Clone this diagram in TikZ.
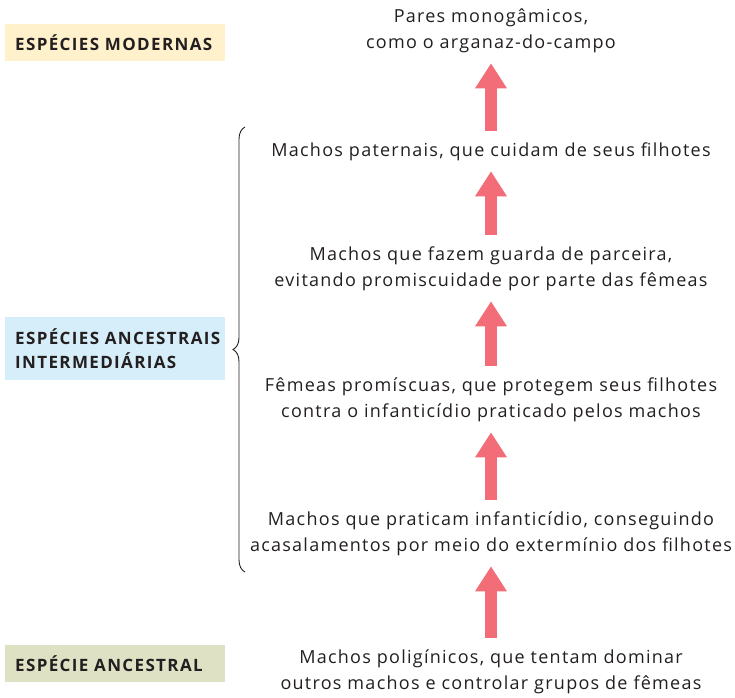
\documentclass[tikz,border=0pt]{standalone}
\usepackage{fontspec}
\setmainfont{Open Sans}
\newfontfamily\stagefont[LetterSpace=7]{Open Sans}
\newfontfamily\erafont[LetterSpace=8]{Open Sans}
\usetikzlibrary{arrows.meta,decorations.pathreplacing}

\definecolor{arrowred}{HTML}{F26D78}
\definecolor{modernfill}{HTML}{FFF1CC}
\definecolor{interfill}{HTML}{D6EEF9}
\definecolor{ancestfill}{HTML}{DFE1C4}
\definecolor{textgray}{HTML}{231F20}

\tikzset{
  stage/.style={align=center, text=textgray, inner sep=0pt,
    font=\stagefont\fontsize{18}{26}\selectfont},
  era/.style={anchor=west, align=left, text=textgray, inner sep=0pt,
    font=\erafont\bfseries\fontsize{17}{24}\selectfont},
  evol/.style={arrowred, line width=12pt,
    -{Triangle[width=30pt,length=25pt]}, shorten <=12pt, shorten >=10pt}
}

\begin{document}
\begin{tikzpicture}[x=1pt,y=-1pt]
    \useasboundingbox (0,0) rectangle (735,697);

    % Era boxes on the left
    \fill[modernfill] (5,24) rectangle (225,61);
    \fill[interfill] (5,317) rectangle (225,380);
    \fill[ancestfill] (5,645) rectangle (225,682);
    \node[era] (modern) at (15,43) {ESPÉCIES MODERNAS};
    \node[era] (inter) at (15,349) {ESPÉCIES ANCESTRAIS\\INTERMEDIÁRIAS};
    \node[era] (ancest) at (15,664) {ESPÉCIE ANCESTRAL};

    % Stages of the evolution
    \node[stage] (monog) at (491,31) {Pares monogâmicos,\\como o arganaz-do-campo};
    \node[stage] (patern) at (491,152) {Machos paternais, que cuidam de seus filhotes};
    \node[stage] (guarda) at (491,269) {Machos que fazem guarda de parceira,\\evitando promiscuidade por parte das fêmeas};
    \node[stage] (promisc) at (491,400) {Fêmeas promíscuas, que protegem seus filhotes\\contra o infanticídio praticado pelos machos};
    \node[stage] (infant) at (491,534) {Machos que praticam infanticídio, conseguindo\\acasalamentos por meio do extermínio dos filhotes};
    \node[stage] (polig) at (491,672) {Machos poligínicos, que tentam dominar\\outros machos e controlar grupos de fêmeas};

    % Arrows between stages
    \draw[evol] (polig) -- (infant);
    \draw[evol] (infant) -- (promisc);
    \draw[evol] (promisc) -- (guarda);
    \draw[evol] (guarda) -- (patern);
    \draw[evol] (patern) -- (monog);

    % Brace for the intermediate species
    \coordinate (braceA) at (245,572);
    \coordinate (braceB) at (245,127);
    \draw[textgray, line width=0.9pt,
      decoration={brace, amplitude=12pt}, decorate] (braceA) -- (braceB);
\end{tikzpicture}
\end{document}
